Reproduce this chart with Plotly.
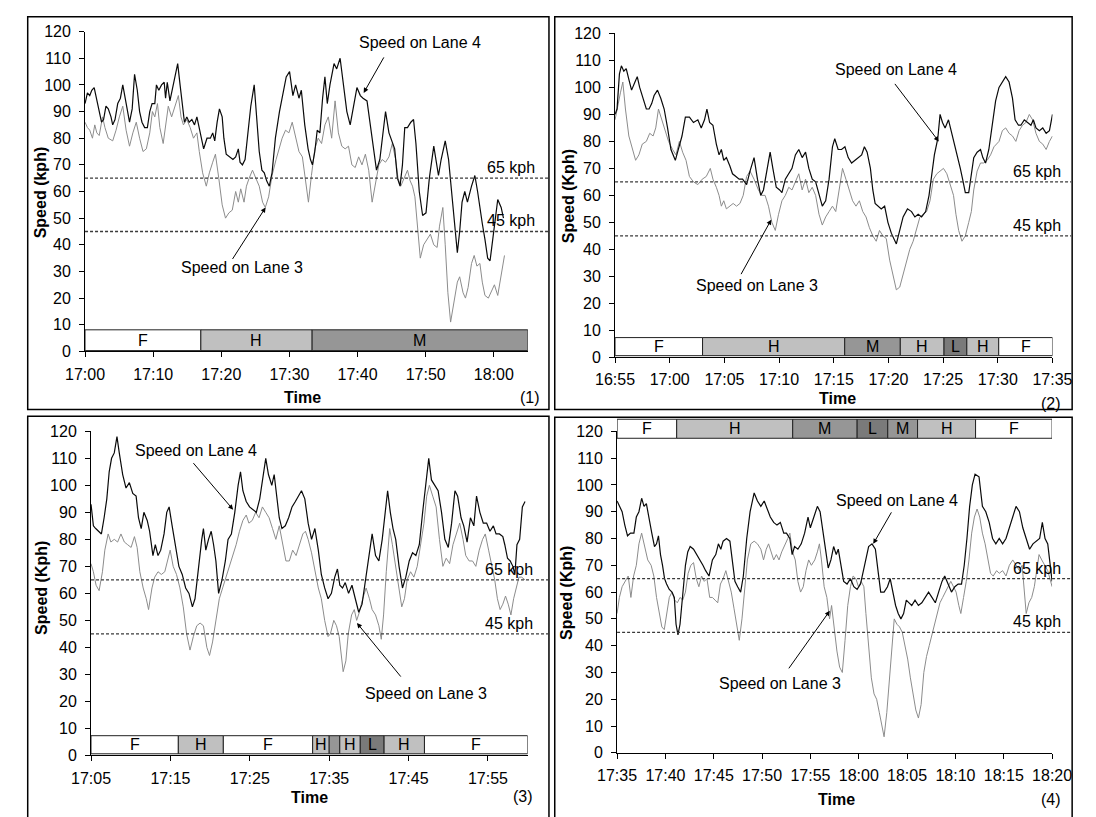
import pandas as pd
import plotly.graph_objects as go

W, H = 1096, 817
DAY = "2000-01-01"

# ---------------------------------------------------------------- data
# Each speed series: (minutes after panel start, speed in kph)

# Panel 1 : 17:00 - 18:05
P1_START, P1_END = "17:00", "18:05"
P1_LANE4 = [
    (0.00, 93), (0.35, 97), (0.69, 96), (0.99, 98), (1.34, 99), (1.73, 94), (2.08, 90), (2.42, 86),
    (2.72, 87), (3.07, 92), (3.41, 91), (3.81, 88), (4.06, 85), (4.40, 87), (4.80, 93), (5.19, 95),
    (5.54, 100), (5.89, 95), (6.28, 89), (6.53, 86), (6.92, 91), (7.27, 104), (7.67, 98), (8.01, 90),
    (8.36, 86), (8.75, 84), (9.15, 84), (9.50, 90), (9.84, 93), (10.24, 93), (10.48, 100), (10.83, 98),
    (11.23, 100), (11.62, 101), (11.82, 95), (12.07, 101), (12.46, 94), (12.96, 100), (13.60, 108),
    (13.95, 100), (14.29, 92), (14.59, 86), (14.94, 88), (15.28, 86), (15.68, 87), (16.07, 85),
    (16.42, 88), (16.91, 82), (17.41, 76), (17.90, 80), (18.40, 80), (18.74, 82), (19.04, 79),
    (19.39, 86), (19.73, 91), (20.13, 88), (20.38, 80), (20.72, 74), (21.22, 73), (21.71, 72),
    (22.11, 73), (22.50, 76), (22.75, 71), (23.10, 70), (23.49, 72), (23.84, 80), (24.33, 92),
    (24.83, 100), (25.17, 88), (25.57, 75), (25.96, 68), (26.31, 67), (26.66, 64), (27.05, 62),
    (27.45, 67), (27.94, 80), (28.54, 90), (29.03, 96), (29.53, 103), (30.02, 105), (30.51, 96),
    (30.91, 100), (31.40, 95), (31.75, 98), (32.25, 85), (32.74, 76), (33.09, 72), (33.38, 70),
    (33.73, 75), (34.08, 83), (34.47, 82), (34.87, 95), (35.21, 103), (35.56, 93), (35.95, 100),
    (36.55, 108), (36.94, 106), (37.44, 110), (37.93, 100), (38.43, 90), (38.92, 85), (39.42, 92),
    (39.91, 99), (40.41, 96), (40.80, 95), (41.39, 94), (41.89, 85), (42.38, 75), (42.78, 68),
    (43.27, 72), (43.77, 82), (44.11, 90), (44.61, 82), (45.10, 78), (45.45, 76), (45.85, 65),
    (46.24, 62), (46.59, 70), (46.93, 84), (47.33, 84), (47.82, 86), (48.22, 87), (48.57, 78),
    (49.06, 60), (49.55, 51), (50.05, 52), (50.54, 65), (51.19, 77), (51.53, 72), (51.88, 66),
    (52.27, 72), (52.87, 79), (53.36, 72), (53.76, 62), (54.25, 48), (54.65, 37), (54.99, 45),
    (55.34, 56), (55.74, 60), (56.13, 56), (56.73, 62), (57.22, 66), (57.62, 60), (57.96, 53),
    (58.31, 48), (58.70, 42), (59.10, 35), (59.45, 34), (59.94, 45), (60.58, 57), (61.08, 54),
    (61.42, 50),
]
P1_LANE3 = [
    (0.00, 86), (0.35, 84), (0.69, 83), (1.09, 80), (1.43, 85), (1.73, 82), (2.08, 81), (2.57, 88),
    (2.92, 84), (3.41, 80), (4.06, 79), (4.55, 83), (5.04, 88), (5.54, 92), (6.03, 83), (6.53, 77),
    (7.02, 82), (7.52, 86), (8.01, 80), (8.51, 75), (9.00, 76), (9.50, 82), (9.89, 90), (10.24, 88),
    (10.63, 93), (10.98, 84), (11.47, 78), (11.82, 85), (12.22, 92), (12.71, 88), (13.20, 92),
    (13.70, 96), (14.09, 88), (14.44, 85), (14.94, 87), (15.43, 84), (15.92, 80), (16.42, 82),
    (16.77, 75), (17.26, 67), (17.80, 62), (18.25, 67), (18.74, 71), (19.14, 74), (19.63, 65),
    (20.13, 55), (20.62, 50), (21.12, 52), (21.61, 53), (22.11, 60), (22.50, 56), (22.85, 61),
    (23.34, 56), (23.69, 62), (24.09, 65), (24.58, 68), (25.07, 65), (25.57, 62), (26.06, 56),
    (26.46, 54), (26.95, 58), (27.45, 66), (28.04, 72), (28.44, 76), (28.93, 80), (29.43, 83),
    (29.92, 82), (30.41, 86), (30.91, 80), (31.40, 75), (31.90, 73), (32.39, 64), (32.79, 56),
    (33.23, 66), (33.73, 76), (34.22, 80), (34.72, 78), (35.21, 85), (35.71, 88), (36.20, 80),
    (36.70, 94), (37.19, 82), (37.69, 77), (38.18, 76), (38.67, 77), (39.17, 70), (39.66, 69),
    (40.16, 73), (40.65, 70), (41.15, 74), (41.64, 68), (42.14, 56), (42.63, 63), (43.13, 70),
    (43.62, 72), (44.11, 71), (44.61, 73), (45.10, 78), (45.60, 72), (45.94, 65), (46.34, 62),
    (46.83, 65), (47.33, 68), (47.72, 64), (48.07, 62), (48.42, 58), (48.81, 45), (49.21, 35),
    (49.70, 40), (50.20, 42), (50.69, 44), (51.19, 40), (51.68, 39), (52.03, 47), (52.52, 54),
    (52.87, 40), (53.26, 22), (53.66, 11), (54.15, 18), (54.65, 26), (54.99, 28), (55.49, 22),
    (55.84, 20), (56.23, 24), (56.73, 33), (57.12, 36), (57.52, 32), (57.96, 33), (58.31, 26),
    (58.70, 21), (59.20, 20), (59.69, 23), (60.09, 25), (60.58, 21), (61.08, 28), (61.57, 36),
]
P1_STATES = ["F", "H", "M"]
P1_EDGES = ["17:00:00", "17:17:00", "17:33:20", "18:05:00"]
P1_ARROW_LANE4 = ("17:40:54", 97)
P1_ARROW_LANE3 = ("17:26:30", 54)

# Panel 2 : 16:55 - 17:35
P2_START, P2_END = "16:55", "17:35"
P2_LANE4 = [
    (0.00, 90), (0.18, 92), (0.40, 105), (0.58, 108), (0.80, 106), (1.02, 107), (1.26, 103),
    (1.51, 99), (1.82, 102), (2.03, 104), (2.25, 100), (2.55, 96), (2.86, 92), (3.11, 92), (3.35, 94),
    (3.57, 97), (3.88, 99), (4.18, 96), (4.49, 92), (4.80, 85), (5.11, 77), (5.51, 73), (5.82, 78),
    (6.12, 82), (6.43, 89), (6.80, 89), (7.17, 87), (7.57, 88), (7.88, 85), (8.18, 88), (8.40, 92),
    (8.65, 87), (8.95, 86), (9.26, 79), (9.51, 75), (9.72, 77), (9.94, 73), (10.18, 74), (10.49, 71),
    (10.74, 68), (11.05, 67), (11.35, 66), (11.66, 66), (12.03, 64), (12.34, 69), (12.71, 74),
    (13.02, 66), (13.32, 60), (13.57, 62), (13.88, 70), (14.18, 76), (14.43, 70), (14.74, 63),
    (15.05, 62), (15.26, 61), (15.57, 66), (15.88, 68), (16.18, 70), (16.49, 75), (16.80, 77),
    (17.11, 74), (17.42, 76), (17.72, 70), (18.03, 66), (18.34, 65), (18.65, 60), (18.95, 56),
    (19.26, 58), (19.57, 66), (19.88, 78), (20.09, 81), (20.40, 77), (20.71, 77), (21.02, 78),
    (21.32, 74), (21.63, 72), (21.94, 73), (22.25, 74), (22.55, 75), (22.80, 78), (23.05, 76),
    (23.35, 70), (23.57, 62), (23.78, 57), (24.03, 56), (24.34, 55), (24.65, 56), (24.95, 50),
    (25.26, 46), (25.72, 42), (26.03, 47), (26.34, 52), (26.74, 55), (27.11, 54), (27.42, 52),
    (27.72, 53), (28.03, 52), (28.40, 54), (28.71, 60), (28.95, 68), (29.20, 75), (29.51, 81),
    (29.72, 90), (29.94, 87), (30.18, 85), (30.49, 88), (30.80, 83), (31.11, 77), (31.35, 74),
    (31.57, 70), (31.78, 66), (32.03, 61), (32.34, 61), (32.58, 68), (32.80, 74), (33.11, 76),
    (33.42, 77), (33.63, 74), (33.88, 72), (34.18, 77), (34.49, 86), (34.80, 95), (35.11, 100),
    (35.42, 102), (35.72, 104), (36.03, 102), (36.34, 96), (36.58, 88), (36.89, 86), (37.11, 86),
    (37.42, 88), (37.72, 87), (38.03, 86), (38.25, 88), (38.49, 85), (38.80, 84), (39.11, 85),
    (39.42, 83), (39.72, 84), (40.00, 90),
]
P2_LANE3 = [
    (0.00, 88), (0.18, 92), (0.49, 98), (0.71, 102), (0.95, 92), (1.26, 82), (1.57, 77), (1.88, 73),
    (2.18, 75), (2.49, 79), (2.86, 80), (3.17, 83), (3.48, 82), (3.72, 85), (3.97, 92), (4.28, 88),
    (4.58, 84), (4.89, 80), (5.26, 77), (5.57, 75), (5.88, 80), (6.18, 76), (6.49, 73), (6.80, 67),
    (7.17, 65), (7.57, 64), (7.97, 66), (8.34, 67), (8.71, 70), (8.95, 66), (9.26, 63), (9.51, 60),
    (9.72, 56), (9.94, 58), (10.18, 55), (10.49, 56), (10.80, 57), (11.11, 56), (11.42, 57),
    (11.72, 60), (12.03, 67), (12.34, 69), (12.71, 66), (13.11, 62), (13.42, 60), (13.72, 60),
    (14.03, 56), (14.34, 50), (14.65, 47), (14.95, 53), (15.26, 58), (15.57, 60), (15.88, 63),
    (16.18, 62), (16.49, 65), (16.80, 68), (17.11, 62), (17.42, 66), (17.72, 61), (18.03, 63),
    (18.34, 60), (18.65, 53), (18.95, 49), (19.26, 52), (19.57, 54), (19.88, 56), (20.18, 54),
    (20.49, 62), (20.80, 70), (21.11, 66), (21.42, 62), (21.72, 58), (22.03, 56), (22.34, 58),
    (22.65, 54), (22.95, 52), (23.26, 48), (23.57, 45), (23.88, 43), (24.18, 47), (24.49, 45),
    (24.80, 44), (25.11, 36), (25.42, 30), (25.72, 25), (26.03, 26), (26.34, 31), (26.65, 36),
    (26.95, 40), (27.26, 43), (27.57, 48), (27.88, 52), (28.18, 53), (28.49, 54), (28.80, 58),
    (29.11, 66), (29.42, 68), (29.72, 69), (30.03, 70), (30.34, 68), (30.65, 64), (30.95, 60),
    (31.17, 53), (31.42, 47), (31.72, 43), (32.03, 45), (32.34, 50), (32.58, 54), (32.80, 62),
    (33.11, 69), (33.42, 72), (33.72, 72), (34.03, 73), (34.34, 75), (34.65, 78), (35.11, 80),
    (35.42, 84), (35.72, 85), (36.03, 83), (36.34, 82), (36.65, 80), (36.95, 84), (37.26, 86),
    (37.57, 87), (37.88, 90), (38.18, 88), (38.49, 83), (38.80, 80), (39.11, 79), (39.42, 77),
    (39.72, 80), (40.00, 82),
]
P2_STATES = ["F", "H", "M", "H", "L", "H", "F"]
P2_EDGES = ["16:55:00", "17:03:00", "17:16:00", "17:21:05", "17:25:05", "17:27:10", "17:30:05", "17:35:00"]
P2_ARROW_LANE4 = ("17:24:36", 80)
P2_ARROW_LANE3 = ("17:09:17", 51)

# Panel 3 : 17:05 - 18:00
P3_START, P3_END = "17:05", "18:00"
P3_LANE4 = [
    (0.00, 93), (0.30, 85), (0.59, 84), (1.02, 83), (1.31, 82), (1.65, 88), (1.99, 95), (2.29, 105),
    (2.59, 110), (2.93, 112), (3.27, 118), (3.56, 112), (3.99, 104), (4.41, 99), (4.83, 101),
    (5.26, 97), (5.68, 96), (5.98, 88), (6.32, 84), (6.66, 90), (7.08, 87), (7.38, 83), (7.80, 74),
    (8.10, 78), (8.44, 74), (8.78, 76), (9.20, 82), (9.54, 90), (9.84, 92), (10.22, 85), (10.64, 78),
    (11.07, 70), (11.49, 67), (11.92, 62), (12.34, 60), (12.77, 55), (13.10, 58), (13.53, 70),
    (13.95, 80), (14.16, 84), (14.46, 76), (14.80, 80), (15.14, 83), (15.44, 78), (15.73, 72),
    (16.07, 60), (16.50, 65), (16.92, 72), (17.26, 80), (17.68, 82), (18.11, 90), (18.53, 100),
    (18.83, 105), (19.13, 98), (19.55, 94), (19.97, 92), (20.40, 91), (20.82, 90), (21.25, 95),
    (21.67, 103), (22.01, 110), (22.35, 104), (22.77, 100), (23.07, 104), (23.37, 96), (23.71, 88),
    (24.05, 84), (24.47, 85), (24.89, 88), (25.32, 92), (25.74, 94), (26.17, 96), (26.51, 98),
    (26.93, 95), (27.35, 86), (27.78, 80), (28.20, 84), (28.63, 76), (29.01, 67), (29.43, 62),
    (29.86, 58), (30.28, 60), (30.70, 66), (31.04, 69), (31.34, 63), (31.68, 62), (32.02, 64),
    (32.44, 60), (32.87, 63), (33.29, 58), (33.72, 53), (34.14, 56), (34.56, 65), (34.99, 75),
    (35.41, 82), (35.84, 74), (36.26, 72), (36.68, 80), (37.02, 90), (37.36, 98), (37.70, 90),
    (38.04, 84), (38.38, 80), (38.80, 70), (39.23, 62), (39.65, 66), (40.08, 72), (40.50, 75),
    (40.92, 74), (41.35, 78), (41.77, 90), (42.20, 102), (42.54, 110), (42.88, 102), (43.30, 100),
    (43.72, 98), (44.15, 90), (44.57, 80), (45.00, 77), (45.42, 86), (45.84, 98), (46.18, 96),
    (46.61, 88), (46.95, 85), (47.37, 79), (47.79, 88), (48.22, 85), (48.56, 96), (48.98, 90),
    (49.41, 86), (49.83, 86), (50.25, 83), (50.68, 85), (51.02, 82), (51.44, 82), (51.87, 81),
    (52.12, 78), (52.46, 73), (52.80, 72), (53.14, 70), (53.39, 67), (53.65, 78), (53.99, 80),
    (54.33, 92), (54.67, 94),
]
P3_LANE3 = [
    (0.00, 71), (0.30, 68), (0.64, 63), (1.02, 61), (1.44, 68), (1.74, 76), (2.16, 82), (2.50, 79),
    (2.93, 80), (3.35, 79), (3.77, 82), (4.20, 79), (4.62, 78), (5.05, 77), (5.47, 81), (5.81, 77),
    (6.15, 68), (6.57, 62), (6.96, 58), (7.25, 54), (7.68, 62), (8.02, 66), (8.44, 68), (8.86, 67),
    (9.29, 68), (9.71, 73), (9.97, 76), (10.35, 70), (10.77, 67), (11.20, 62), (11.62, 55),
    (12.04, 45), (12.47, 39), (12.89, 44), (13.32, 48), (13.74, 49), (14.16, 48), (14.59, 40),
    (14.93, 37), (15.31, 42), (15.73, 50), (16.16, 58), (16.58, 62), (17.01, 66), (17.43, 70),
    (17.85, 74), (18.28, 78), (18.70, 83), (19.13, 87), (19.55, 89), (19.89, 86), (20.31, 87),
    (20.74, 90), (21.16, 88), (21.59, 92), (22.01, 90), (22.43, 88), (22.86, 84), (23.28, 80),
    (23.71, 85), (24.13, 78), (24.55, 72), (24.98, 72), (25.40, 76), (25.83, 74), (26.25, 78),
    (26.68, 82), (27.01, 83), (27.35, 80), (27.78, 75), (28.20, 68), (28.63, 62), (29.01, 58),
    (29.43, 50), (29.86, 44), (30.15, 45), (30.58, 50), (30.92, 48), (31.26, 44), (31.55, 35),
    (31.76, 31), (32.10, 35), (32.40, 45), (32.82, 52), (33.16, 54), (33.46, 50), (33.80, 53),
    (34.22, 58), (34.65, 62), (35.07, 58), (35.41, 54), (35.84, 52), (36.26, 48), (36.56, 43),
    (36.85, 52), (37.19, 68), (37.62, 84), (37.96, 78), (38.38, 70), (38.80, 62), (39.14, 55),
    (39.48, 58), (39.82, 65), (40.25, 68), (40.67, 66), (41.09, 70), (41.52, 78), (41.94, 86),
    (42.28, 96), (42.62, 100), (43.04, 96), (43.47, 92), (43.89, 80), (44.32, 70), (44.74, 73),
    (45.17, 71), (45.59, 78), (46.01, 82), (46.44, 86), (46.86, 80), (47.20, 74), (47.63, 72),
    (48.05, 72), (48.47, 70), (48.90, 76), (49.32, 80), (49.66, 82), (50.08, 76), (50.51, 70),
    (50.85, 65), (51.19, 58), (51.53, 54), (51.87, 56), (52.21, 59), (52.55, 56), (52.89, 52),
    (53.23, 58), (53.57, 62), (53.90, 66), (54.24, 66), (54.67, 65),
]
P3_STATES = ["F", "H", "F", "H", "M", "H", "L", "H", "F"]
P3_EDGES = ["17:05:00", "17:16:00", "17:21:40", "17:32:55", "17:35:00", "17:36:20",
            "17:38:55", "17:41:55", "17:47:00", "18:00:00"]
P3_ARROW_LANE4 = ("17:22:54", 91)
P3_ARROW_LANE3 = ("17:38:30", 49)

# Panel 4 : 17:35 - 18:20
P4_START, P4_END = "17:35", "18:20"
P4_LANE4 = [
    (0.00, 94), (0.24, 92), (0.52, 90), (0.80, 85), (1.08, 81), (1.39, 82), (1.74, 82), (1.99, 88),
    (2.26, 90), (2.54, 95), (2.79, 92), (3.03, 93), (3.31, 87), (3.59, 82), (3.87, 77), (4.08, 78),
    (4.28, 81), (4.49, 74), (4.70, 70), (4.91, 65), (5.12, 63), (5.40, 61), (5.68, 60), (5.92, 58),
    (6.10, 48), (6.30, 44), (6.51, 48), (6.79, 60), (7.07, 70), (7.31, 75), (7.56, 77), (7.91, 76),
    (8.25, 74), (8.60, 72), (8.88, 70), (9.16, 68), (9.51, 66), (9.86, 72), (10.21, 74), (10.48, 78),
    (10.73, 76), (10.97, 79), (11.32, 80), (11.67, 79), (11.95, 70), (12.19, 64), (12.47, 62),
    (12.78, 60), (13.06, 66), (13.41, 80), (13.76, 90), (14.18, 97), (14.52, 94), (14.87, 92),
    (15.22, 94), (15.57, 91), (15.85, 88), (16.20, 86), (16.54, 85), (16.89, 86), (17.24, 82),
    (17.52, 82), (17.87, 80), (18.11, 74), (18.36, 77), (18.70, 76), (19.05, 78), (19.40, 82),
    (19.75, 88), (19.99, 84), (20.38, 88), (20.72, 92), (21.00, 90), (21.28, 82), (21.60, 75),
    (21.84, 69), (22.12, 72), (22.40, 77), (22.67, 74), (22.88, 76), (23.16, 70), (23.44, 64),
    (23.79, 63), (24.14, 65), (24.49, 62), (24.83, 61), (25.18, 63), (25.46, 68), (25.74, 73),
    (26.02, 77), (26.37, 78), (26.72, 76), (26.99, 68), (27.27, 60), (27.62, 60), (27.97, 62),
    (28.25, 65), (28.53, 60), (28.81, 55), (29.08, 52), (29.36, 50), (29.64, 52), (29.92, 57),
    (30.20, 56), (30.48, 55), (30.82, 57), (31.17, 55), (31.52, 56), (31.87, 58), (32.22, 60),
    (32.57, 58), (32.92, 56), (33.26, 60), (33.61, 64), (33.89, 66), (34.24, 63), (34.59, 60),
    (34.94, 62), (35.28, 63), (35.63, 63), (35.91, 70), (36.19, 80), (36.47, 92), (36.75, 100),
    (37.03, 104), (37.44, 103), (37.79, 92), (38.14, 90), (38.49, 86), (38.84, 80), (39.18, 78),
    (39.53, 80), (39.88, 78), (40.23, 80), (40.58, 84), (40.93, 88), (41.27, 92), (41.62, 90),
    (41.97, 84), (42.32, 80), (42.67, 76), (43.02, 78), (43.36, 79), (43.71, 80), (43.99, 86),
    (44.27, 80), (44.55, 78), (44.83, 70), (45.00, 64),
]
P4_LANE3 = [
    (0.00, 52), (0.24, 58), (0.52, 62), (0.80, 64), (1.15, 66), (1.43, 58), (1.71, 66), (1.99, 70),
    (2.26, 78), (2.54, 82), (2.89, 76), (3.17, 72), (3.52, 70), (3.80, 66), (4.08, 58), (4.35, 52),
    (4.63, 47), (4.88, 46), (5.12, 52), (5.40, 58), (5.68, 60), (5.96, 57), (6.23, 56), (6.51, 58),
    (6.79, 57), (7.07, 60), (7.35, 67), (7.63, 70), (7.91, 71), (8.19, 65), (8.46, 62), (8.74, 66),
    (9.02, 64), (9.30, 65), (9.58, 58), (9.86, 58), (10.14, 57), (10.41, 56), (10.69, 63),
    (10.97, 65), (11.25, 68), (11.53, 64), (11.81, 60), (12.09, 54), (12.37, 48), (12.64, 42),
    (12.92, 50), (13.20, 62), (13.48, 72), (13.83, 78), (14.18, 79), (14.52, 78), (14.87, 76),
    (15.15, 72), (15.43, 76), (15.67, 78), (15.92, 75), (16.20, 72), (16.48, 74), (16.75, 72),
    (17.03, 75), (17.31, 77), (17.66, 80), (17.87, 82), (18.15, 75), (18.43, 72), (18.70, 64),
    (18.98, 60), (19.26, 62), (19.54, 68), (19.82, 72), (20.10, 70), (20.45, 72), (20.72, 75),
    (20.93, 78), (21.14, 72), (21.42, 62), (21.70, 58), (21.98, 50), (22.19, 55), (22.47, 45),
    (22.74, 38), (23.02, 32), (23.30, 30), (23.58, 42), (23.86, 55), (24.14, 62), (24.42, 66),
    (24.70, 65), (24.97, 62), (25.25, 64), (25.53, 62), (25.74, 52), (26.02, 40), (26.30, 28),
    (26.58, 22), (26.85, 20), (27.13, 15), (27.41, 10), (27.62, 6), (27.90, 15), (28.18, 28),
    (28.39, 40), (28.67, 50), (28.95, 48), (29.22, 47), (29.50, 45), (29.78, 40), (30.06, 35),
    (30.34, 28), (30.62, 22), (30.90, 16), (31.17, 13), (31.45, 18), (31.73, 30), (32.01, 36),
    (32.29, 40), (32.57, 44), (32.85, 48), (33.12, 52), (33.40, 56), (33.68, 58), (33.96, 60),
    (34.24, 62), (34.52, 64), (34.80, 62), (35.07, 60), (35.35, 55), (35.56, 52), (35.84, 58),
    (36.12, 64), (36.40, 72), (36.68, 82), (36.96, 88), (37.24, 91), (37.51, 88), (37.79, 82),
    (38.07, 78), (38.35, 72), (38.63, 67), (38.91, 66), (39.26, 68), (39.53, 67), (39.88, 68),
    (40.23, 66), (40.58, 70), (40.93, 72), (41.27, 70), (41.62, 68), (41.90, 70), (42.11, 60),
    (42.32, 52), (42.60, 56), (42.89, 58), (43.16, 62), (43.37, 68), (43.65, 74), (43.93, 72),
    (44.20, 70), (44.55, 68), (45.00, 62),
]
P4_STATES = ["F", "H", "M", "L", "M", "H", "F"]
P4_EDGES = ["17:35:00", "17:41:10", "17:53:10", "17:59:50", "18:03:00", "18:06:05", "18:12:05", "18:20:00"]
P4_ARROW_LANE4 = ("18:01:30", 78)
P4_ARROW_LANE3 = ("17:57:00", 53)

THRESHOLDS = [65, 45]
Y_MAX = 120

# ---------------------------------------------------------------- style
FONT = "Liberation Sans, Arial, Helvetica, sans-serif"
TXT = dict(family=FONT, size=16, color="black")
BOLD = dict(family=FONT, size=16, color="black", weight="bold")
LANE4_COLOR, LANE3_COLOR = "#0a0a0a", "#8c8c8c"
STATE_FILL = {"F": "#ffffff", "H": "#c0c0c0", "M": "#969696", "L": "#7a7a7a"}

# pixel layout of each panel
PANELS = [
    dict(start=P1_START, end=P1_END, dtick=10, lane4=P1_LANE4, lane3=P1_LANE3,
         states=P1_STATES, edges=P1_EDGES, a4=P1_ARROW_LANE4, a3=P1_ARROW_LANE3,
         ytitle="Speed (kph)", tag="(1)",
         plot=(67.5, 24.1, 527.1, 350.7), frame=(8, 9, 549, 410), band=(0.3, 8.1),
         ytitle_xy=(21, 188), time_xy=(293.6, 398), tag_xy=(542, 398),
         t4_xy=(415, 35), t3_xy=(230, 265), off4=(21, -37), off3=(-34, 53), kph_x=537),
    dict(start=P2_START, end=P2_END, dtick=5, lane4=P2_LANE4, lane3=P2_LANE3,
         states=P2_STATES, edges=P2_EDGES, a4=P2_ARROW_LANE4, a3=P2_ARROW_LANE3,
         ytitle="Speed (Kph)", tag="(2)",
         plot=(617.6, 26.0, 1071.6, 356.7), frame=(555, 9, 1092, 410), band=(0.6, 7.3),
         ytitle_xy=(569, 192), time_xy=(848, 399), tag_xy=(1082, 404),
         t4_xy=(909, 63), t3_xy=(765, 283), off4=(-45, -59), off3=(-31, 56), kph_x=1083),
    dict(start=P3_START, end=P3_END, dtick=10, lane4=P3_LANE4, lane3=P3_LANE3,
         states=P3_STATES, edges=P3_EDGES, a4=P3_ARROW_LANE4, a3=P3_ARROW_LANE3,
         ytitle="Speed (Kph)", tag="(3)",
         plot=(73.7, 432.3, 526.9, 763.3), frame=(8, 417, 549, 840), band=(0.6, 7.3),
         ytitle_xy=(22, 592), time_xy=(300.6, 806), tag_xy=(534, 805),
         t4_xy=(183, 452), t3_xy=(421, 700), off4=(-41, -48), off3=(45, 55), kph_x=535),
    dict(start=P4_START, end=P4_END, dtick=5, lane4=P4_LANE4, lane3=P4_LANE3,
         states=P4_STATES, edges=P4_EDGES, a4=P4_ARROW_LANE4, a3=P4_ARROW_LANE3,
         ytitle="Speed (Kph)", tag="(4)",
         plot=(619.7, 432.3, 1071.2, 760.7), frame=(555, 418, 1092, 840), band=(117.4, 124.5),
         ytitle_xy=(567, 597), time_xy=(847, 808), tag_xy=(1082, 808),
         t4_xy=(910, 503), t3_xy=(789, 690), off4=(19, -33), off3=(-42, 59), kph_x=1082),
]


def clock(hms):
    return pd.Timestamp(f"{DAY} {hms}")


def px(x):
    return x / W


def py(y):
    return 1 - y / H


fig = go.Figure()
shapes, annotations, axes = [], [], {}

for i, p in enumerate(PANELS, start=1):
    sfx = "" if i == 1 else str(i)
    xa, ya = "x" + sfx, "y" + sfx
    x0p, y0p, x1p, y1p = p["plot"]
    dom_lo, dom_hi = py(y1p), py(y0p)
    base = clock(p["start"])

    def yfrac(v):
        return dom_lo + (dom_hi - dom_lo) * v / Y_MAX

    for series, color, width in ((p["lane3"], LANE3_COLOR, 1.0), (p["lane4"], LANE4_COLOR, 1.2)):
        mins, kph = zip(*series)
        fig.add_trace(go.Scatter(
            x=base + pd.to_timedelta(list(mins), unit="min"), y=list(kph),
            mode="lines", line=dict(color=color, width=width),
            xaxis=xa, yaxis=ya, showlegend=False, hoverinfo="skip"))

    axes["xaxis" + sfx] = dict(
        domain=[px(x0p), px(x1p)], anchor=ya, type="date",
        range=[clock(p["start"]), clock(p["end"])],
        tick0=clock(p["start"]), dtick=p["dtick"] * 60000, tickformat="%H:%M",
        ticks="outside", ticklen=5, tickcolor="black", showline=True, linecolor="black",
        linewidth=1, showgrid=False, zeroline=False, tickfont=TXT, ticklabelstandoff=3,
        fixedrange=True)
    axes["yaxis" + sfx] = dict(
        domain=[dom_lo, dom_hi], anchor=xa, range=[0, Y_MAX], dtick=10, tick0=0,
        ticks="outside", ticklen=5, tickcolor="black", showline=True, linecolor="black",
        linewidth=1, showgrid=False, zeroline=False, tickfont=TXT, ticklabelstandoff=5,
        fixedrange=True)

    # panel frame
    fx0, fy0, fx1, fy1 = p["frame"]
    shapes.append(dict(type="rect", xref="paper", yref="paper", x0=px(fx0), x1=px(fx1),
                       y0=py(fy1), y1=py(fy0), line=dict(color="black", width=1.5),
                       fillcolor="rgba(0,0,0,0)", layer="above"))

    # speed thresholds
    for thr in THRESHOLDS:
        shapes.append(dict(type="line", xref="paper", yref=ya, x0=px(x0p), x1=px(fx1 - 1),
                           y0=thr, y1=thr, line=dict(color="#3a3a3a", width=1.3, dash="3px,2px")))
        annotations.append(dict(xref="paper", yref=ya, x=px(p["kph_x"]), y=thr, xanchor="right",
                                yanchor="middle", yshift=10.5, text=f"{thr} kph", showarrow=False,
                                font=TXT))

    # traffic state strip
    b_lo, b_hi = p["band"]
    for state, t0, t1 in zip(p["states"], p["edges"][:-1], p["edges"][1:]):
        s0, s1 = clock(t0), clock(t1)
        shapes.append(dict(type="rect", xref=xa, yref="paper", x0=s0, x1=s1,
                           y0=yfrac(b_lo), y1=yfrac(b_hi), fillcolor=STATE_FILL[state],
                           line=dict(color="#222222", width=1), layer="above"))
        if (s1 - s0).total_seconds() >= 90:
            annotations.append(dict(xref=xa, yref="paper", x=s0 + (s1 - s0) / 2,
                                    y=yfrac((b_lo + b_hi) / 2), text=state, showarrow=False,
                                    font=TXT, xanchor="center", yanchor="middle"))

    # lane callouts
    for key, tkey, okey, label in (("a4", "t4_xy", "off4", "Speed on Lane 4"),
                                   ("a3", "t3_xy", "off3", "Speed on Lane 3")):
        when, val = p[key]
        ox, oy = p[okey]
        annotations.append(dict(xref=xa, yref=ya, x=clock(when), y=val, ax=ox, ay=oy, text="",
                                showarrow=True, arrowhead=2, arrowsize=1, arrowwidth=1,
                                arrowcolor="black", standoff=0, startstandoff=0))
        tx, ty = p[tkey]
        annotations.append(dict(xref="paper", yref="paper", x=px(tx), y=py(ty), text=label,
                                showarrow=False, font=TXT, xanchor="center", yanchor="middle"))

    # titles
    annotations.append(dict(xref="paper", yref="paper", x=px(p["ytitle_xy"][0]),
                            y=py(p["ytitle_xy"][1]), text=p["ytitle"], textangle=-90,
                            showarrow=False, font=BOLD, xanchor="center", yanchor="middle"))
    annotations.append(dict(xref="paper", yref="paper", x=px(p["time_xy"][0]),
                            y=py(p["time_xy"][1]), text="Time", showarrow=False, font=BOLD,
                            xanchor="center", yanchor="middle"))
    annotations.append(dict(xref="paper", yref="paper", x=px(p["tag_xy"][0]),
                            y=py(p["tag_xy"][1]), text=p["tag"], showarrow=False, font=TXT,
                            xanchor="right", yanchor="middle"))

fig.update_layout(
    width=W, height=H, autosize=False,
    margin=dict(l=0, r=0, t=0, b=0, pad=0),
    paper_bgcolor="white", plot_bgcolor="rgba(0,0,0,0)",
    font=TXT, shapes=shapes, annotations=annotations, **axes)

fig.write_html("out.html", config={"displayModeBar": False})
